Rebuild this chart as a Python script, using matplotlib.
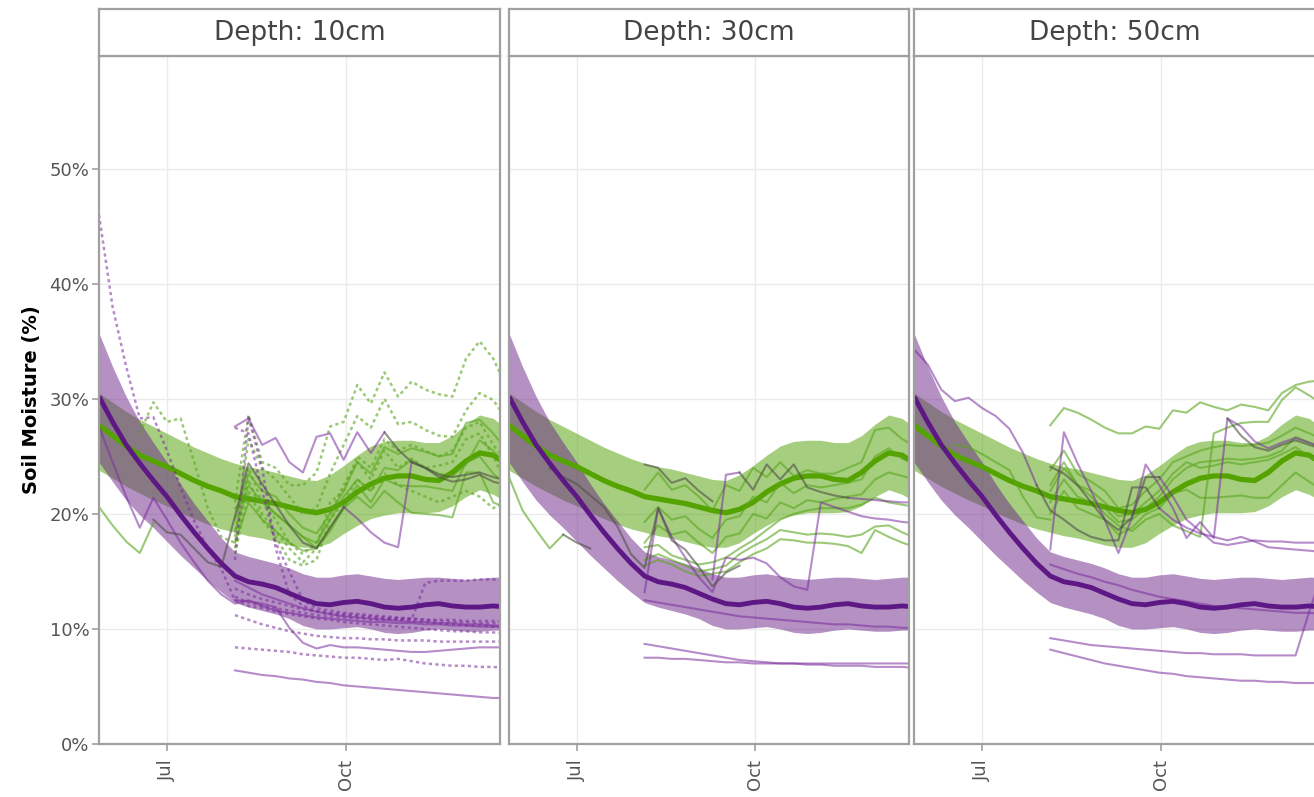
import matplotlib.pyplot as plt
import numpy as np
import pandas as pd

# weekly time steps shared by every series (first = left edge of the panels)
weeks = pd.date_range("2021-05-27", periods=31, freq="7D")

# climatology bands (same in every panel)
green_mean = [27.7, 26.8, 25.9, 25.1, 24.6, 24.1, 23.5, 22.9, 22.4, 22.0, 21.5, 21.3, 21.1, 20.9, 20.6, 20.3,
              20.1, 20.4, 21.0, 21.9, 22.6, 23.1, 23.3, 23.3, 23.0, 22.9, 23.6, 24.6, 25.3, 25.1, 24.3]
green_hi = [30.5, 29.7, 28.9, 28.2, 27.6, 27.0, 26.4, 25.8, 25.3, 24.8, 24.4, 24.1, 23.9, 23.6, 23.3, 23.0,
            22.9, 23.4, 24.2, 25.1, 25.9, 26.3, 26.4, 26.4, 26.2, 26.2, 26.8, 27.8, 28.6, 28.3, 27.4]
green_lo = [23.8, 23.1, 22.4, 21.8, 21.2, 20.7, 20.1, 19.6, 19.1, 18.7, 18.4, 18.1, 17.9, 17.6, 17.3, 17.1,
            17.1, 17.5, 18.3, 19.0, 19.6, 19.9, 20.1, 20.1, 20.1, 20.2, 20.7, 21.5, 22.1, 21.7, 21.0]
purple_mean = [30.2, 28.0, 26.0, 24.4, 22.9, 21.5, 19.9, 18.4, 17.0, 15.7, 14.6, 14.1, 13.9, 13.6, 13.1, 12.6,
               12.2, 12.1, 12.3, 12.4, 12.2, 11.9, 11.8, 11.9, 12.1, 12.2, 12.0, 11.9, 11.9, 12.0, 11.9]
purple_hi = [35.7, 32.8, 30.2, 28.0, 26.2, 24.5, 22.6, 20.9, 19.4, 17.9, 16.7, 16.3, 16.0, 15.7, 15.3, 14.8,
             14.5, 14.5, 14.7, 14.8, 14.6, 14.4, 14.3, 14.4, 14.5, 14.5, 14.4, 14.3, 14.4, 14.5, 14.5]
purple_lo = [24.5, 22.8, 21.2, 19.9, 18.8, 17.6, 16.4, 15.3, 14.2, 13.2, 12.3, 11.9, 11.6, 11.3, 10.9, 10.3,
             10.0, 10.0, 10.1, 10.2, 10.0, 9.7, 9.6, 9.7, 9.9, 10.0, 9.9, 9.8, 9.8, 9.9, 9.9]

depth_labels = ["Depth: 10cm", "Depth: 30cm", "Depth: 50cm"]

# individual sensor lines: (index of first week, values)
d10_purple = [
    (10, [27.6, 28.3, 26.0, 26.6, 24.5, 23.6, 26.7, 27.0, 24.7, 27.1, 25.3, 27.1]),
    (18, [20.6, 19.6, 18.4, 17.5, 17.1, 24.5]),
    (0, [27.6, 24.5, 21.5, 18.8, 21.4, 19.5, 17.5, 15.8, 14.2, 13.0, 12.2, 12.5, 12.0, 11.6, 11.4, 11.2,
         11.0, 10.9, 10.8, 10.7, 10.6, 10.6, 10.5, 10.5, 10.4, 10.4, 10.3, 10.3, 10.2, 10.2, 10.2]),
    (10, [12.5, 12.4, 12.2, 11.9, 10.1, 8.8, 8.3, 8.6, 8.4, 8.4, 8.3, 8.2, 8.1, 8.0, 8.0, 8.1, 8.2, 8.3,
          8.4, 8.4, 8.4]),
    (10, [6.4, 6.2, 6.0, 5.9, 5.7, 5.6, 5.4, 5.3, 5.1, 5.0, 4.9, 4.8, 4.7, 4.6, 4.5, 4.4, 4.3, 4.2, 4.1,
          4.0, 4.0]),
    (10, [14.2, 13.6, 13.0, 12.6, 12.2, 11.8, 11.5, 11.3, 11.1, 11.0, 10.9, 10.8, 10.7, 10.6, 10.6, 10.5,
          10.5, 10.4, 10.4, 10.3, 10.3]),
]
d10_purple_dot = [
    (0, [46.0, 38.0, 32.8, 28.3, 28.4, 25.5, 22.3, 19.4, 17.0, 15.2, 12.5, 12.0, 11.8, 11.5, 11.3, 11.1,
         10.9, 10.8, 10.6, 10.5, 10.4, 10.3, 10.2, 10.1, 10.0, 9.9, 9.8, 9.8, 9.7, 9.7, 9.6]),
    (10, [16.0, 28.4, 24.0, 17.0, 13.0, 12.0, 11.6, 11.4, 11.3, 11.2, 11.1, 11.0, 10.9, 10.9, 10.8, 10.8,
          10.8, 10.7, 10.7, 10.7, 10.6]),
    (10, [27.5, 27.0, 22.0, 17.5, 15.0, 12.5, 11.8, 11.6, 11.4, 11.3, 11.2, 11.1, 11.0, 10.9, 10.8, 10.7,
          10.6, 10.6, 10.5, 10.5, 10.5]),
    (10, [11.2, 10.8, 10.4, 10.1, 9.8, 9.6, 9.4, 9.3, 9.2, 9.2, 9.1, 9.1, 9.0, 9.0, 9.0, 8.9, 8.9, 8.9,
          8.9, 8.9, 8.9]),
    (10, [8.4, 8.3, 8.2, 8.1, 8.0, 7.8, 7.7, 7.6, 7.5, 7.5, 7.4, 7.3, 7.4, 7.2, 7.0, 6.9, 6.8, 6.8, 6.7,
          6.7, 6.6]),
    (10, [12.8, 12.3, 12.0, 11.8, 11.6, 11.4, 11.2, 11.1, 11.0, 10.9, 10.8, 10.8, 10.9, 10.8, 14.0, 14.2,
          14.2, 14.2, 14.3, 14.3, 14.3]),
    (10, [13.5, 13.0, 12.6, 12.3, 12.0, 11.7, 11.5, 11.3, 11.2, 11.1, 11.0, 10.9, 10.8, 10.7, 10.6, 10.5,
          10.4, 10.3, 10.3, 10.2, 10.2]),
]
d10_green = [
    (0, [20.6, 19.0, 17.6, 16.6, 19.2]),
    (10, [18.5, 22.5, 21.0, 20.0, 19.0, 18.0, 17.5, 19.5, 21.5, 23.0, 22.0, 24.0, 23.8, 24.7, 24.0, 23.5,
          23.3, 24.3, 26.4, 25.5, 24.0]),
    (10, [17.5, 21.0, 19.5, 18.5, 17.5, 16.8, 17.0, 18.5, 20.5, 21.5, 20.5, 22.0, 21.0, 20.1, 20.0, 19.9,
          19.7, 23.6, 23.6, 21.0, 20.5]),
    (10, [19.5, 23.5, 22.0, 21.5, 20.0, 18.8, 18.3, 20.0, 22.0, 24.5, 23.5, 25.8, 25.2, 25.7, 25.4, 25.0,
          25.2, 27.9, 28.2, 27.0, 25.5]),
    (10, [20.5, 21.5, 21.2, 20.0, 19.0, 18.0, 17.0, 18.8, 20.5, 22.5, 21.0, 23.0, 22.5, 22.4, 22.4, 22.2,
          22.0, 24.5, 25.0, 23.5, 22.5]),
]
d10_green_dot = [
    (10, [21.0, 28.6, 24.5, 24.0, 22.5, 22.5, 23.6, 27.6, 28.0, 31.2, 29.6, 32.3, 30.2, 31.5, 30.8, 30.4,
          30.2, 33.5, 35.0, 33.5, 31.0]),
    (10, [18.0, 26.5, 24.0, 23.0, 21.5, 20.0, 20.5, 23.5, 26.0, 28.5, 27.5, 30.0, 27.8, 28.0, 27.3, 26.8,
          26.7, 29.0, 30.5, 29.9, 28.2]),
    (10, [17.0, 24.0, 21.0, 19.5, 17.5, 16.5, 17.5, 20.0, 22.5, 24.5, 23.0, 25.5, 24.0, 24.8, 24.0, 24.2,
          24.5, 26.5, 27.0, 25.0, 22.5]),
    (10, [16.5, 22.0, 19.5, 18.0, 16.0, 15.5, 16.0, 19.5, 21.0, 23.0, 22.0, 23.5, 22.5, 22.0, 21.5, 21.0,
          21.5, 22.0, 21.5, 20.5, 21.0]),
    (3, [27.0, 29.7, 28.0, 28.3, 24.5, 20.5, 18.0, 17.5, 23.0, 20.0, 18.5, 17.0, 15.8, 17.0, 21.0, 22.0,
         25.0, 24.0, 26.5, 25.5, 26.0, 25.5, 25.0, 25.5, 27.5, 28.0, 26.0, 24.5]),
]
d10_gray = [
    (4, [19.5, 18.4, 18.2, 17.0, 15.8, 15.4, 19.8, 24.4, 22.6, 20.8, 19.0, 17.5, 17.0, 18.8, 20.6]),
    (21, [27.1, 25.6, 24.5, 24.0, 23.4, 23.2, 23.4, 23.6, 23.2, 22.9]),
    (23, [24.5, 24.0, 23.2, 22.8, 23.0, 23.4, 22.8, 22.5]),
]

d30_purple = [
    (10, [8.7, 8.5, 8.3, 8.1, 7.9, 7.7, 7.5, 7.3, 7.2, 7.1, 7.0, 7.0, 6.9, 6.9, 6.8, 6.8, 6.8, 6.7, 6.7,
          6.7, 6.6]),
    (10, [7.5, 7.5, 7.4, 7.4, 7.3, 7.2, 7.1, 7.1, 7.0, 7.0, 7.0, 7.0, 7.0, 7.0, 7.0, 7.0, 7.0, 7.0, 7.0,
          7.0, 7.0]),
    (10, [12.5, 12.3, 12.1, 11.9, 11.7, 11.5, 11.3, 11.1, 11.0, 10.9, 10.8, 10.7, 10.6, 10.5, 10.4, 10.4,
          10.3, 10.2, 10.2, 10.1, 10.1]),
    (10, [13.2, 20.5, 18.0, 16.2, 14.5, 13.2, 16.2, 16.0, 16.2, 15.7, 14.5, 13.7, 13.4, 21.0, 20.6, 20.2,
          19.8, 19.6, 19.5, 19.3, 19.2]),
    (15, [14.3, 23.4, 23.6]),
    (25, [21.4, 21.3, 21.2, 21.1, 21.0, 21.0]),
]
d30_purple_dot = []
d30_green = [
    (0, [23.2, 20.3, 18.6, 17.0, 18.2]),
    (10, [22.1, 23.6, 22.1, 22.5, 21.5, 20.3, 22.5, 22.0, 24.0, 23.2, 24.5, 23.3, 23.8, 23.5, 23.5, 24.0,
          24.5, 27.3, 27.5, 26.5, 25.8]),
    (10, [19.3, 20.6, 19.5, 19.8, 18.7, 17.9, 19.5, 19.8, 21.5, 21.0, 22.7, 21.8, 22.5, 22.3, 22.5, 22.7,
          23.0, 25.0, 25.7, 24.8, 24.4]),
    (10, [17.5, 19.0, 18.2, 18.5, 17.5, 16.6, 18.0, 18.3, 20.0, 19.6, 21.0, 20.5, 21.2, 21.0, 21.3, 21.5,
          21.7, 23.0, 23.6, 23.3, 23.0]),
    (10, [17.1, 17.3, 16.4, 16.0, 15.6, 15.8, 16.2, 17.0, 17.7, 18.6, 19.5, 20.0, 20.3, 20.5, 20.5, 20.5,
          20.8, 21.4, 21.0, 20.8, 20.6]),
    (10, [16.0, 16.5, 16.0, 15.5, 15.0, 15.2, 15.5, 16.5, 17.2, 17.8, 18.6, 18.4, 18.2, 18.3, 18.2, 18.0,
          18.2, 18.9, 19.0, 18.4, 17.9]),
    (10, [15.5, 16.0, 15.6, 15.0, 14.6, 14.8, 15.0, 15.8, 16.5, 17.0, 17.8, 17.7, 17.5, 17.5, 17.4, 17.2,
          16.6, 18.6, 18.0, 17.5, 17.1]),
]
d30_green_dot = []
d30_gray = [
    (3, [24.0, 23.2, 22.6, 21.6, 20.6, 18.9, 16.5, 15.3, 20.5, 17.7, 16.9, 15.4, 13.7, 14.9, 15.5]),
    (10, [24.3, 24.0, 22.7, 23.1, 22.0, 21.1]),
    (17, [23.6, 22.1, 24.3, 23.0, 24.3, 22.3, 21.9, 21.6, 21.4]),
    (4, [18.2, 17.5, 17.0]),
]

d50_purple = [
    (0, [34.3, 33.0, 30.8, 29.8, 30.1, 29.2, 28.5, 27.4, 25.3, 22.5]),
    (10, [16.9, 27.1, 24.4, 22.0, 19.5, 16.6, 19.7, 24.3, 22.5, 20.5, 17.9, 19.3, 17.9, 28.3, 27.6, 26.3,
          25.7, 26.2, 26.6, 26.2, 25.8]),
    (18, [23.2, 21.5, 19.5, 18.5, 17.5, 17.3, 17.5, 17.7, 17.6, 17.6, 17.5, 17.5, 17.5]),
    (18, [20.5, 19.5, 18.8, 18.3, 18.0, 17.7, 18.0, 17.6, 17.1, 17.0, 16.9, 16.8, 16.7]),
    (10, [15.6, 15.2, 14.8, 14.5, 14.1, 13.8, 13.4, 13.1, 12.8, 12.6, 12.4, 12.2, 12.0, 11.9, 11.8, 11.7,
          11.6, 11.5, 11.4, 11.4, 11.3]),
    (10, [9.2, 9.0, 8.8, 8.6, 8.5, 8.4, 8.3, 8.2, 8.1, 8.0, 7.9, 7.9, 7.8, 7.8, 7.8, 7.7, 7.7, 7.7, 7.7,
          11.5, 15.0]),
    (10, [8.2, 7.9, 7.6, 7.3, 7.0, 6.8, 6.6, 6.4, 6.2, 6.1, 5.9, 5.8, 5.7, 5.6, 5.5, 5.5, 5.4, 5.4, 5.3,
          5.3, 5.3]),
]
d50_purple_dot = []
d50_green = [
    (3, [26.0, 25.8, 25.2, 24.5, 23.8, 21.5, 19.7, 19.5]),
    (10, [27.7, 29.2, 28.8, 28.2, 27.5, 27.0, 27.0, 27.6, 27.4, 29.0, 28.8, 29.7, 29.3, 29.0, 29.5, 29.3,
          29.0, 30.5, 31.2, 31.5, 31.6]),
    (10, [22.0, 24.0, 22.5, 21.5, 20.0, 19.0, 18.5, 19.5, 20.0, 19.0, 18.5, 18.0, 27.0, 27.5, 27.9, 28.0,
          28.0, 29.9, 31.0, 30.3, 29.5]),
    (10, [23.8, 25.5, 23.5, 22.8, 22.0, 20.5, 20.8, 22.0, 23.0, 24.5, 25.0, 25.5, 25.8, 26.0, 25.9, 26.0,
          26.2, 26.8, 27.5, 27.0, 26.5]),
    (10, [21.0, 23.0, 21.5, 21.0, 20.5, 19.3, 19.5, 20.5, 21.5, 23.0, 24.0, 24.5, 24.6, 24.8, 24.7, 24.8,
          25.0, 25.5, 26.7, 26.2, 25.5]),
    (10, [20.0, 22.0, 20.5, 20.0, 19.5, 18.2, 18.8, 20.0, 20.5, 21.8, 22.1, 21.4, 21.4, 21.5, 21.6, 21.4,
          21.4, 22.5, 23.6, 22.8, 22.0]),
    (10, [22.5, 24.5, 22.5, 22.0, 21.0, 19.8, 20.0, 21.0, 22.0, 23.5, 24.5, 24.0, 24.2, 24.5, 24.3, 24.5,
          24.7, 25.2, 25.8, 25.0, 24.4]),
]
d50_green_dot = []
d50_gray = [
    (9, [22.5, 20.3, 19.5, 18.6, 18.0, 17.7, 17.7, 22.3, 22.3, 20.5]),
    (10, [24.1, 23.5, 22.5, 21.0, 19.5, 18.6, 19.7, 23.2, 23.2]),
    (23, [28.3, 26.8, 25.8, 25.5, 26.0, 26.4, 26.0, 25.6]),
]

panels = [
    (d10_purple, d10_purple_dot, d10_green, d10_green_dot, d10_gray),
    (d30_purple, d30_purple_dot, d30_green, d30_green_dot, d30_gray),
    (d50_purple, d50_purple_dot, d50_green, d50_green_dot, d50_gray),
]

GREEN_BAND = "#4f9e00"
GREEN_LINE = "#55a300"
PURPLE_BAND = "#6b2389"
PURPLE_LINE = "#5e1885"
PURPLE_THIN = "#7b2d9e"
GREEN_THIN = "#5aa61e"
GRAY_THIN = "#4f4f47"
FRAME = "#a0a0a0"
DOT = (0, (1.3, 1.3))


def padded(start, values):
    y = np.full(len(weeks), np.nan)
    y[start:start + len(values)] = values
    return y


W, H = 1314, 797
fig = plt.figure(figsize=(W / 100, H / 100), dpi=100)

lefts = [99, 509, 914]
widths = [401, 400, 402]
plot_top, plot_bottom, strip_top = 56, 744, 9

for i, (purple, purple_dot, green, green_dot, gray) in enumerate(panels):
    ax = fig.add_axes([lefts[i] / W, 1 - plot_bottom / H, widths[i] / W, (plot_bottom - plot_top) / H])

    ax.fill_between(weeks, green_lo, green_hi, color=GREEN_BAND, alpha=0.5, lw=0)
    ax.plot(weeks, green_mean, color=GREEN_LINE, lw=3.8, solid_capstyle="butt")
    ax.fill_between(weeks, purple_lo, purple_hi, color=PURPLE_BAND, alpha=0.5, lw=0)

    for start, vals in green:
        ax.plot(weeks, padded(start, vals), color=GREEN_THIN, alpha=0.6, lw=1.5)
    for start, vals in green_dot:
        ax.plot(weeks, padded(start, vals), color=GREEN_THIN, alpha=0.6, lw=1.8, linestyle=DOT)
    for start, vals in purple:
        ax.plot(weeks, padded(start, vals), color=PURPLE_THIN, alpha=0.55, lw=1.5)
    for start, vals in purple_dot:
        ax.plot(weeks, padded(start, vals), color=PURPLE_THIN, alpha=0.55, lw=1.8, linestyle=DOT)
    for start, vals in gray:
        ax.plot(weeks, padded(start, vals), color=GRAY_THIN, alpha=0.6, lw=1.5)

    ax.plot(weeks, purple_mean, color=PURPLE_LINE, lw=3.5, solid_capstyle="butt")

    ax.set_xlim(pd.Timestamp("2021-05-27"), pd.Timestamp("2021-12-19 12:00"))
    ax.set_ylim(0, 59.8)
    ax.set_xticks([pd.Timestamp("2021-07-01"), pd.Timestamp("2021-10-01")])
    ax.set_xticklabels(["Jul", "Oct"], rotation=90, fontsize=13, color="#555555")
    ax.set_yticks(np.arange(0, 60, 10))
    if i == 0:
        ax.set_yticklabels([f"{v}%" for v in range(0, 60, 10)], fontsize=13, color="#555555")
        ax.tick_params(axis="y", length=5, width=1.2, color=FRAME, pad=2)
        ax.set_ylabel("Soil Moisture (%)", fontsize=14, fontweight="bold", labelpad=6)
    else:
        ax.tick_params(axis="y", left=False, labelleft=False)
    ax.tick_params(axis="x", length=5, width=1.2, color=FRAME, pad=6)
    ax.grid(True, color="#ebebeb", lw=1)
    ax.set_axisbelow(True)
    for side in ax.spines.values():
        side.set_color(FRAME)
        side.set_linewidth(1.6)

    strip = fig.add_axes([lefts[i] / W, 1 - plot_top / H, widths[i] / W, (plot_top - strip_top) / H])
    strip.set_xticks([])
    strip.set_yticks([])
    for side in strip.spines.values():
        side.set_color(FRAME)
        side.set_linewidth(1.6)
    strip.text(0.5, 0.5, depth_labels[i], ha="center", va="center", fontsize=19, color="#444444",
               transform=strip.transAxes)

fig.savefig("out.png", dpi=100)
